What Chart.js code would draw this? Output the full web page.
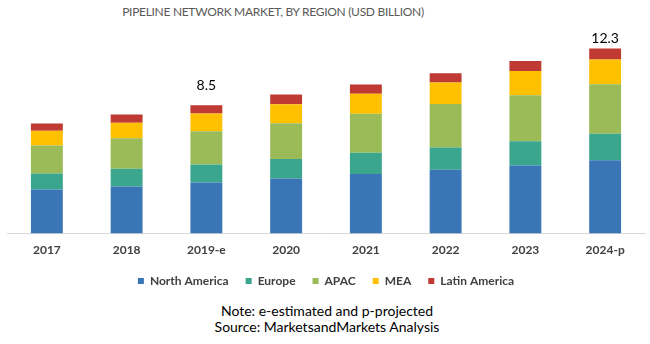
<!DOCTYPE html>
<html>
<head>
<meta charset="utf-8">
<script src="https://cdn.jsdelivr.net/npm/chart.js@4.4.0/dist/chart.umd.min.js"></script>
<style>
  html, body { margin: 0; padding: 0; background: #fff; }
  #wrap { position: relative; width: 650px; height: 344px; overflow: hidden; font-family: Lato, "Liberation Sans", sans-serif; }
  #chartBox { position: absolute; left: 0; top: 0; width: 650px; height: 300px; }
  #title { position: absolute; left: 0; width: 546px; text-align: center; top: 4px; font-size: 12px; letter-spacing: -0.3px; color: #595959; white-space: nowrap; }
  .note { position: absolute; left: 0; width: 654px; text-align: center; font-size: 14px; color: #000; white-space: nowrap; }
</style>
</head>
<body>
<div id="wrap">
  <div id="title">PIPELINE NETWORK MARKET, BY REGION (USD BILLION)</div>
  <div id="chartBox"><canvas id="c"></canvas></div>
  <div class="note" style="top:302px;">Note: e-estimated and p-projected</div>
  <div class="note" style="top:318px;">Source: MarketsandMarkets Analysis</div>
</div>
<script>
const categories = ["2017", "2018", "2019-e", "2020", "2021", "2022", "2023", "2024-p"];
const northAmerica = [2.93, 3.13, 3.40, 3.67, 3.96, 4.25, 4.53, 4.87];
const europe       = [1.07, 1.18, 1.20, 1.29, 1.42, 1.47, 1.60, 1.76];
const apac         = [1.85, 2.02, 2.20, 2.37, 2.58, 2.89, 3.07, 3.29];
const mea          = [0.98, 1.03, 1.18, 1.27, 1.33, 1.43, 1.60, 1.65];
const latinAmerica = [0.49, 0.55, 0.55, 0.65, 0.62, 0.62, 0.67, 0.73];
const totalLabels  = ["", "", "8.5", "", "", "", "", "12.3"];

const labelOffsets = [0, 0, 20, 0, 0, 0, 0, 10];

const totalsPlugin = {
  id: 'totals',
  afterDatasetsDraw(chart) {
    const ctx = chart.ctx;
    const meta = chart.getDatasetMeta(chart.data.datasets.length - 1);
    ctx.save();
    ctx.font = '14px Lato, "Liberation Sans", sans-serif';
    ctx.fillStyle = '#000';
    ctx.textAlign = 'center';
    ctx.textBaseline = 'middle';
    totalLabels.forEach((t, i) => {
      if (!t) return;
      const el = meta.data[i];
      ctx.fillText(t, el.x, el.y - labelOffsets[i]);
    });
    ctx.restore();
  }
};

const tickFont = { family: 'Lato, "Liberation Sans", sans-serif', size: 12, weight: 'bold' };

new Chart(document.getElementById('c'), {
  type: 'bar',
  data: {
    labels: categories,
    datasets: [
      { label: 'North America', data: northAmerica, backgroundColor: '#3A76B6' },
      { label: 'Europe', data: europe, backgroundColor: '#3AA68E' },
      { label: 'APAC', data: apac, backgroundColor: '#9BBB59' },
      { label: 'MEA', data: mea, backgroundColor: '#FFC000' },
      { label: 'Latin America', data: latinAmerica, backgroundColor: '#BE3A33' }
    ]
  },
  options: {
    responsive: true,
    maintainAspectRatio: false,
    animation: false,
    datasets: { bar: { barPercentage: 0.4, categoryPercentage: 1.0 } },
    layout: { padding: { left: 7, right: 5, top: 38, bottom: 3 } },
    scales: {
      x: {
        stacked: true,
        grid: { display: false, drawTicks: false },
        border: { display: true, color: '#D9D9D9' },
        ticks: { font: tickFont, color: '#404040', padding: 9 },
        afterFit: (scale) => { scale.height -= 8; }
      },
      y: { stacked: true, display: false, min: 0, max: 13 }
    },
    plugins: {
      legend: {
        position: 'bottom',
        labels: { boxWidth: 6, boxHeight: 6, padding: 17, font: tickFont, color: '#404040' }
      },
      tooltip: { enabled: false }
    }
  },
  plugins: [totalsPlugin]
});
</script>
</body>
</html>
